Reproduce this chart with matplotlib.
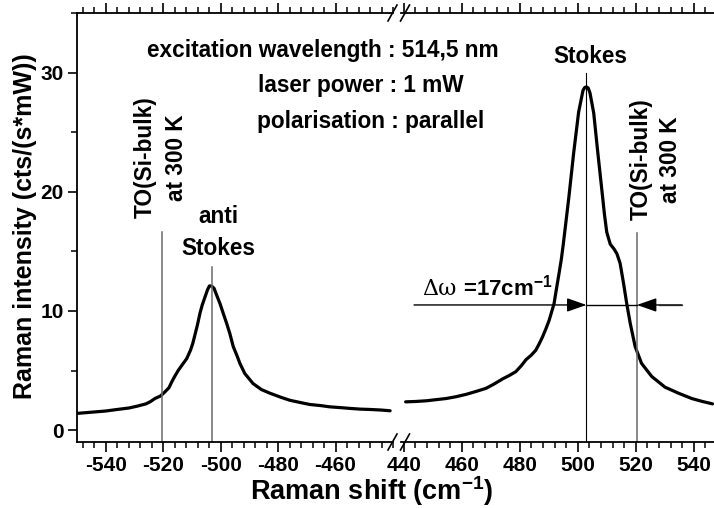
import matplotlib
matplotlib.use("Agg")
import matplotlib.pyplot as plt
from matplotlib.lines import Line2D
from matplotlib.ticker import MultipleLocator, FixedLocator

# Raman spectrum of Si, anti-Stokes branch (negative shift) and Stokes branch
anti_x = [-550, -546, -543, -540, -536, -532, -529, -526, -524.5, -522.8, -521,
          -519.7, -518, -517.0, -516, -514.7, -513, -511.8, -510.5, -509.7,
          -508.1, -507.2, -506.4, -505.4, -504.6, -503.9, -503.1, -502.3,
          -501.4, -500.2, -499.1, -497.9, -496.8, -495.6, -494.4, -493.3,
          -491.6, -488.7, -485.8, -482.9, -479, -475.9, -472, -469,
          -465, -462, -458, -455, -451.5, -448, -444, -441]
anti_y = [1.40, 1.48, 1.54, 1.60, 1.73, 1.85, 2.01, 2.20, 2.38, 2.66, 2.85,
          3.13, 3.55, 4.05, 4.50, 5.03, 5.60, 6.00, 6.70, 7.27,
          8.80, 9.80, 10.5, 11.2, 11.75, 12.1, 12.08, 11.9,
          11.33, 10.6, 9.8, 8.95, 8.1, 7.0, 6.3, 5.6,
          4.75, 3.9, 3.4, 3.1, 2.75, 2.5, 2.3, 2.15,
          2.05, 1.95, 1.88, 1.82, 1.76, 1.73, 1.68, 1.62]

stokes_x = [440.6, 444, 447.8, 451, 454.6, 458, 461.5, 465, 468.3, 471, 474.1,
            476.5, 478.6, 480.5, 482.1, 484, 485.5, 486.6, 487.8, 489, 490.1,
            491.8, 492.6, 493.5, 494.3, 495, 496.9, 498.6, 500.3, 501.8, 502.4,
            503.0, 503.6, 504.2, 505.5, 506.9, 507.7, 508.5, 509.2, 510.0,
            511.2, 512.5, 513.5, 514.6, 515.8, 516.9, 518.1, 519.8, 522,
            525.5, 530.1, 534.7, 539.3, 543, 546.5]
stokes_y = [2.37, 2.40, 2.46, 2.55, 2.65, 2.80, 3.00, 3.25, 3.50, 3.85, 4.30,
            4.60, 4.90, 5.40, 5.90, 6.30, 6.70, 7.20, 7.80, 8.50, 9.20,
            10.6, 11.8, 13.1, 14.3, 15.6, 19.5, 23.3, 26.7, 28.5, 28.75,
            28.8, 28.7, 28.3, 26.6, 23.3, 21.5, 19.7, 18.1, 16.6,
            15.6, 15.2, 14.8, 14.0, 12.3, 10.6, 8.95, 7.0, 5.6,
            4.5, 3.6, 3.1, 2.65, 2.4, 2.2]

peak_shift = 503.0        # observed phonon line
bulk_shift = 520.4        # TO phonon of bulk Si at 300 K
delta_omega = 17          # shift between bulk and observed line

left_ticks = [-540, -520, -500, -480, -460]
right_ticks = [440, 460, 480, 500, 520, 540]

info_lines = ["excitation wavelength : 514,5 nm",
              "laser power : 1 mW",
              "polarisation : parallel"]

plt.rcParams.update({
    "font.family": ["Liberation Sans", "DejaVu Sans"],
    "font.weight": "bold",
    "axes.unicode_minus": False,
    "mathtext.fontset": "custom",
    "mathtext.rm": "Liberation Sans:bold",
    "mathtext.it": "Liberation Sans:bold",
    "mathtext.bf": "Liberation Sans:bold",
})

W, H = 714, 508
fig = plt.figure(figsize=(W / 100, H / 100), dpi=100)

def fx(px):
    return px / W

def fy(py):
    return 1 - py / H

ax_l = fig.add_axes([fx(77), fy(442), (393 - 77) / W, (442 - 13) / H])
ax_r = fig.add_axes([fx(401), fy(442), (714 - 401) / W, (442 - 13) / H], sharey=ax_l)

spine_w = 1.3
for ax, ticks in ((ax_l, left_ticks), (ax_r, right_ticks)):
    for s in ax.spines.values():
        s.set_linewidth(spine_w)
    ax.spines["right"].set_visible(False)
    ax.xaxis.set_major_locator(FixedLocator(ticks))
    ax.xaxis.set_minor_locator(MultipleLocator(4))
    ax.tick_params(axis="x", which="major", direction="out", length=7, width=1.2,
                   top=True, labeltop=False, labelsize=15, pad=3)
    ax.tick_params(axis="x", which="minor", direction="out", length=4.3, width=1.1,
                   top=True)
ax_r.spines["left"].set_visible(False)
ax_r.tick_params(axis="y", which="both", left=False, labelleft=False)

ax_l.set_xlim(-550, -440)
ax_r.set_xlim(439, 547)
ax_l.set_ylim(-1, 35)
ax_l.yaxis.set_major_locator(MultipleLocator(10))
ax_l.yaxis.set_minor_locator(MultipleLocator(5))
ax_l.tick_params(axis="y", which="major", direction="out", length=6.5, width=1.2,
                 labelsize=15, pad=3)
ax_l.tick_params(axis="y", which="minor", direction="out", length=4, width=1.1)

# spectra
ax_l.plot(anti_x, anti_y, color="black", lw=2.3, solid_joinstyle="round",
          solid_capstyle="round")
ax_r.plot(stokes_x, stokes_y, color="black", lw=2.3, solid_joinstyle="round",
          solid_capstyle="round")

# reference lines
gray = "#6a6a6a"
ax_l.plot([-bulk_shift, -bulk_shift], [-1, 16.6], color=gray, lw=1.1)
ax_l.plot([-peak_shift, -peak_shift], [-1, 13.7], color=gray, lw=1.1)
ax_r.plot([peak_shift, peak_shift], [-1, 30.0], color="black", lw=0.8)
ax_r.plot([bulk_shift, bulk_shift], [-1, 16.5], color=gray, lw=1.1)

# shift annotation
arrow_y = 10.5
head = dict(arrowstyle="-|>,head_length=1.2,head_width=0.42", mutation_scale=10,
            shrinkA=0, shrinkB=0, lw=1.0)
ax_r.annotate("", xy=(peak_shift, arrow_y), xytext=(443.5, arrow_y),
              arrowprops=dict(color="black", **head))
ax_r.annotate("", xy=(bulk_shift, arrow_y), xytext=(536, arrow_y),
              arrowprops=dict(color=gray, fc="black", ec="black", **head))
ax_r.plot([528, 536], [arrow_y, arrow_y], color=gray, lw=1.0)
ax_r.plot([peak_shift, bulk_shift], [arrow_y, arrow_y], color="black", lw=1.0)
t_dw = ax_r.text(446.4, 11.3, "\u0394\u03c9", fontsize=16, fontweight="normal",
                 family=["DejaVu Serif"], ha="left", va="baseline")
ax_r.annotate(" =%dcm$^{-1}$" % delta_omega, xy=(1, 0), xycoords=t_dw,
              fontsize=16, ha="left", va="bottom")

# peak labels
fs = 16.3
ax_l.text(-500.9, 17.4, "anti", fontsize=fs, ha="center", va="baseline")
ax_l.text(-500.9, 14.7, "Stokes", fontsize=fs, ha="center", va="baseline")
ax_r.text(504.3, 30.8, "Stokes", fontsize=fs, ha="center", va="baseline")
ax_l.text(-520.8, 22.9, "TO(Si-bulk)\nat 300 K", fontsize=fs, rotation=90,
          ha="center", va="center", multialignment="center", linespacing=1.45)
ax_r.text(526.9, 22.7, "TO(Si-bulk)\nat 300 K", fontsize=fs, rotation=90,
          ha="center", va="center", multialignment="center", linespacing=1.35)

# measurement conditions
for (px, py), line in zip([(147, 57), (258, 92), (257, 128)], info_lines):
    fig.text(fx(px), fy(py), line, fontsize=fs, ha="left", va="baseline")

# axis titles
fig.text(fx(372), fy(500), "Raman shift (cm$^{-1}$)", fontsize=19.5,
         ha="center", va="baseline")
fig.text(fx(25), fy(226), "Raman intensity (cts/(s*mW))", fontsize=18,
         rotation=90, ha="center", va="center")

# axis break marks
for yc in (442, 13):
    for xc in (392.5, 405):
        fig.add_artist(Line2D([fx(xc - 4.5), fx(xc + 4.5)], [fy(yc + 8), fy(yc - 8)],
                              transform=fig.transFigure, color="black", lw=1.2))

fig.savefig("out.png", dpi=100)
